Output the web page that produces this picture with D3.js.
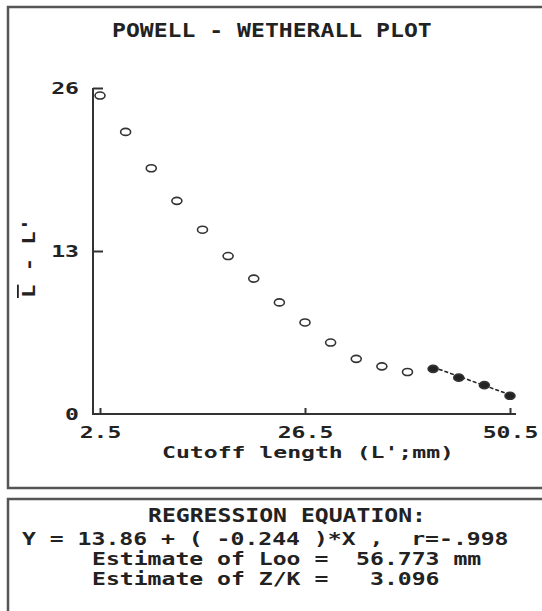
<!DOCTYPE html>
<html>
<head>
<meta charset="utf-8">
<script src="https://cdn.jsdelivr.net/npm/d3@7"></script>
<style>
  body { margin: 0; background: #fff; }
  svg { display: block; }
  text { font-family: 'DejaVu Sans Mono', monospace; font-weight: bold; fill: #222; white-space: pre; }
</style>
<title>Powell - Wetherall Plot</title>
</head>
<body>
<script>
// cutoff lengths L' (mm) and mean L - L'
var cutoffs = [2.5, 5.5, 8.5, 11.5, 14.5, 17.5, 20.5, 23.5, 26.5, 29.5, 32.5, 35.5, 38.5, 41.5, 44.5, 47.5, 50.5];
var diffs = [25.4, 22.5, 19.6, 17.0, 14.7, 12.6, 10.8, 8.9, 7.3, 5.7, 4.4, 3.8, 3.35, 3.6, 2.9, 2.3, 1.45];
// points used in the regression (filled)
var inFit = [0, 0, 0, 0, 0, 0, 0, 0, 0, 0, 0, 0, 0, 1, 1, 1, 1];
var xTicks = [2.5, 26.5, 50.5];
var yTicks = [0, 13, 26];
var intercept = 13.86, slope = -0.244;
var resultLines = [
  "REGRESSION EQUATION:",
  "Y = 13.86 + ( -0.244 )*X ,  r=-.998",
  "Estimate of Loo =  56.773 mm",
  "Estimate of Z/K =   3.096"
];

var width = 542, height = 611;
var cw = 13.9; // character cell width of the old screen font

var svg = d3.select('body').append('svg')
  .attr('width', width)
  .attr('height', height);

// frames
svg.append('path')
  .attr('d', 'M560,7H8V488H560')
  .attr('fill', 'none').attr('stroke', '#555').attr('stroke-width', 2.5);
svg.append('path')
  .attr('d', 'M560,499H8V620')
  .attr('fill', 'none').attr('stroke', '#555').attr('stroke-width', 2.5);

var x = d3.scaleLinear().domain([2.5, 50.5]).range([100, 510]);
var y = d3.scaleLinear().domain([0, 26]).range([414, 88]);

function stretch(sel) {
  sel.attr('textLength', function () { return this.textContent.length * cw; })
    .attr('lengthAdjust', 'spacingAndGlyphs');
}

// title
svg.append('text')
  .attr('x', 112).attr('y', 37)
  .style('font-size', '19px')
  .text('POWELL - WETHERALL PLOT')
  .call(stretch);

// axes
var xAxis = svg.append('g')
  .attr('transform', 'translate(0,' + y(0) + ')')
  .call(d3.axisBottom(x).tickValues(xTicks).tickSize(-6).tickPadding(13)
    .tickFormat(d3.format('.1f')));
var yAxis = svg.append('g')
  .attr('transform', 'translate(93,0)')
  .call(d3.axisLeft(y).tickValues(yTicks).tickSize(-10).tickPadding(14)
    .tickFormat(d3.format('d')));

[xAxis, yAxis].forEach(function (g) {
  g.select('.domain').remove();
  g.selectAll('line').attr('stroke', '#333').attr('stroke-width', 2);
  g.selectAll('text')
    .attr('fill', '#222')
    .style('font-family', "'DejaVu Sans Mono', monospace")
    .style('font-weight', 'bold')
    .style('font-size', '16px')
    .call(stretch);
});
yAxis.selectAll('.tick').filter(function (d) { return d === 0; }).select('line').remove();

svg.append('path')
  .attr('d', 'M93,' + y(26) + 'V' + y(0) + 'H' + (x(50.5) + 6))
  .attr('fill', 'none').attr('stroke', '#333').attr('stroke-width', 2);

// axis titles
svg.append('text')
  .attr('x', x(26.5) + 3).attr('y', 458)
  .attr('text-anchor', 'middle')
  .style('font-size', '16px')
  .text("Cutoff length (L';mm)")
  .call(stretch);

var yl = svg.append('text')
  .attr('transform', 'translate(35,258) rotate(-90)')
  .attr('text-anchor', 'middle')
  .style('font-size', '18px')
  .attr('textLength', 80).attr('lengthAdjust', 'spacingAndGlyphs');
yl.append('tspan').style('text-decoration', 'overline').text('L');
yl.append('tspan').text(" - L'");

// regression line over the fitted points
var fitX = cutoffs.filter(function (d, i) { return inFit[i]; });
svg.append('path')
  .attr('d', d3.line()
    .x(function (d) { return x(d); })
    .y(function (d) { return y(intercept + slope * d); })([d3.min(fitX), d3.max(fitX)]))
  .attr('fill', 'none')
  .attr('stroke', '#222')
  .attr('stroke-width', 1.5)
  .attr('stroke-dasharray', '4,2');

// points
svg.selectAll('ellipse.pt')
  .data(cutoffs)
  .enter()
  .append('ellipse')
  .attr('class', 'pt')
  .attr('cx', function (d) { return x(d); })
  .attr('cy', function (d, i) { return y(diffs[i]); })
  .attr('rx', 5)
  .attr('ry', 3.5)
  .attr('fill', function (d, i) { return inFit[i] ? '#222' : '#fff'; })
  .attr('stroke', '#333')
  .attr('stroke-width', 1.6);

// results panel
var starts = [148, 22, 92, 92];
var bases = [522, 545, 565, 585];
svg.selectAll('text.res')
  .data(resultLines)
  .enter()
  .append('text')
  .attr('class', 'res')
  .attr('x', function (d, i) { return starts[i]; })
  .attr('y', function (d, i) { return bases[i]; })
  .style('font-size', function (d, i) { return i === 0 ? '19px' : '17px'; })
  .text(function (d) { return d; })
  .call(stretch);
</script>
</body>
</html>
